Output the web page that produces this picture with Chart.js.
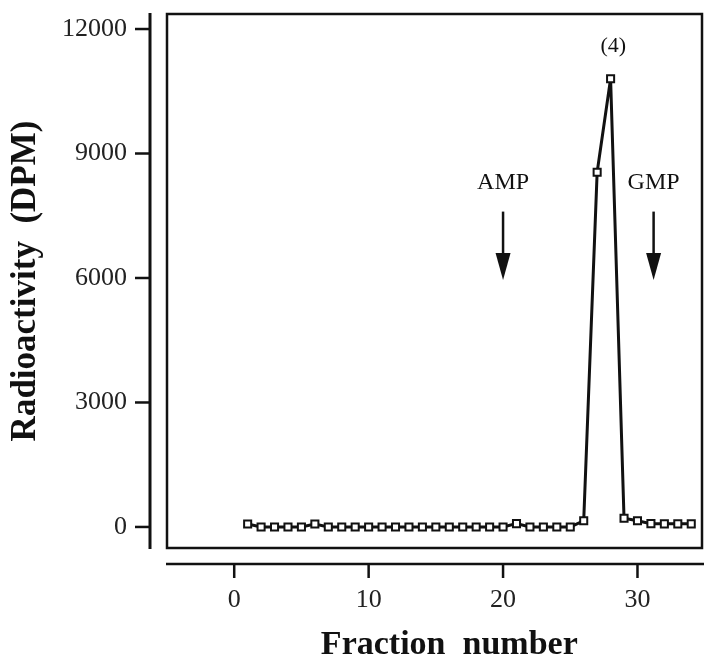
<!DOCTYPE html>
<html>
<head>
<meta charset="utf-8">
<script src="https://cdn.jsdelivr.net/npm/chart.js@4.4.1/dist/chart.umd.min.js"></script>
<style>
  html, body { margin: 0; padding: 0; background: #fff; }
</style>
</head>
<body>
<canvas id="chart" width="704" height="660"></canvas>
<script>
// fraction number vs radioactivity (DPM)
const fractions = [1, 2, 3, 4, 5, 6, 7, 8, 9, 10, 11, 12, 13, 14, 15, 16, 17,
  18, 19, 20, 21, 22, 23, 24, 25, 26, 27, 28, 29, 30, 31, 32, 33, 34];
const dpm = [70, 0, 0, 0, 0, 70, 0, 0, 0, 0, 0, 0, 0, 0, 0, 0, 0,
  0, 0, 0, 80, 0, 0, 0, 0, 150, 8550, 10800, 210, 150, 80, 75, 75, 75];
const xTicks = [0, 10, 20, 30];
const yTicks = [0, 3000, 6000, 9000, 12000];

const markerLabels = ['AMP', 'GMP'];
const markerFractions = [20, 31.2];
const peakText = '(4)';
const peakFraction = 28.2;

const serif = '"Liberation Serif", "Times New Roman", serif';
const ink = '#111';

const decorations = {
  id: 'decorations',
  afterDraw(chart) {
    const { ctx, chartArea: a, scales: { x, y } } = chart;
    ctx.save();
    ctx.strokeStyle = ink;
    ctx.fillStyle = ink;
    ctx.lineCap = 'butt';

    // frame around plot
    ctx.lineWidth = 2.5;
    ctx.strokeRect(a.left, a.top, a.right - a.left, a.bottom - a.top);

    // detached y axis
    const yx = a.left - 17;
    ctx.lineWidth = 3;
    ctx.beginPath();
    ctx.moveTo(yx, a.top - 1);
    ctx.lineTo(yx, a.bottom + 1);
    ctx.stroke();
    ctx.lineWidth = 2.5;
    yTicks.forEach(v => {
      const py = y.getPixelForValue(v);
      ctx.beginPath();
      ctx.moveTo(yx - 15, py);
      ctx.lineTo(yx, py);
      ctx.stroke();
    });

    // detached x axis
    const xy = a.bottom + 16;
    ctx.lineWidth = 2.5;
    ctx.beginPath();
    ctx.moveTo(a.left - 1, xy);
    ctx.lineTo(chart.width, xy);
    ctx.stroke();
    xTicks.forEach(v => {
      const px = x.getPixelForValue(v);
      ctx.beginPath();
      ctx.moveTo(px, xy);
      ctx.lineTo(px, xy + 14);
      ctx.stroke();
    });

    // AMP / GMP markers with arrows
    ctx.font = '24px ' + serif;
    ctx.textAlign = 'center';
    ctx.textBaseline = 'middle';
    markerLabels.forEach((lab, i) => {
      const px = x.getPixelForValue(markerFractions[i]);
      ctx.fillText(lab, px, y.getPixelForValue(8300));
      const top = y.getPixelForValue(7600);
      const tip = y.getPixelForValue(5950);
      const headLen = 27;
      ctx.lineWidth = 2.5;
      ctx.beginPath();
      ctx.moveTo(px, top);
      ctx.lineTo(px, tip - headLen + 2);
      ctx.stroke();
      ctx.beginPath();
      ctx.moveTo(px - 7.5, tip - headLen);
      ctx.lineTo(px + 7.5, tip - headLen);
      ctx.lineTo(px, tip);
      ctx.closePath();
      ctx.fill();
    });

    // peak label
    ctx.font = '22px ' + serif;
    ctx.fillText(peakText, x.getPixelForValue(peakFraction), y.getPixelForValue(11580));

    // x axis title
    ctx.font = 'bold 34px ' + serif;
    ctx.fillText('Fraction  number', x.getPixelForValue(16), 645);
    ctx.restore();
  }
};

new Chart(document.getElementById('chart'), {
  type: 'line',
  data: {
    datasets: [{
      data: fractions.map((f, i) => ({ x: f, y: dpm[i] })),
      borderColor: ink,
      borderWidth: 3,
      tension: 0,
      pointStyle: 'rect',
      pointRadius: 5,
      pointBorderWidth: 2,
      pointBackgroundColor: '#fff',
      pointBorderColor: ink
    }]
  },
  options: {
    responsive: false,
    animation: false,
    devicePixelRatio: 1,
    layout: { autoPadding: false, padding: { top: 14, right: 2, left: 0, bottom: 0 } },
    plugins: {
      legend: { display: false },
      tooltip: { enabled: false }
    },
    scales: {
      x: {
        type: 'linear',
        min: -5,
        max: 34.8,
        afterBuildTicks: s => { s.ticks = xTicks.map(v => ({ value: v })); },
        afterFit: s => {
          s.height = 112;
          s.paddingLeft = 0;
          s.paddingRight = 0;
        },
        grid: { display: false, drawTicks: false },
        border: { display: false },
        ticks: {
          padding: 37,
          color: '#222',
          font: { family: serif, size: 26 },
          callback: v => String(v)
        }
      },
      y: {
        min: -507,
        max: 12362,
        afterBuildTicks: s => { s.ticks = yTicks.map(v => ({ value: v })); },
        afterFit: s => {
          s.width = 167;
          s.paddingTop = 0;
          s.paddingBottom = 0;
        },
        grid: { display: false, drawTicks: false },
        border: { display: false },
        ticks: {
          padding: 40,
          color: '#222',
          font: { family: serif, size: 26 },
          callback: v => String(v)
        },
        title: {
          display: true,
          text: 'Radioactivity  (DPM)',
          color: ink,
          font: { family: serif, size: 35, weight: 'bold', lineHeight: 1 },
          padding: { top: 8, bottom: 0 }
        }
      }
    }
  },
  plugins: [decorations]
});
</script>
</body>
</html>
